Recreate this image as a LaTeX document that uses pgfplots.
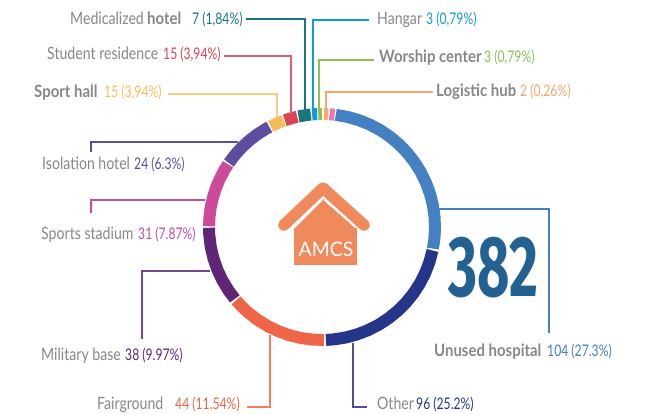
\documentclass[border=0pt]{standalone}
\usepackage{fontspec}
\setmainfont{Lato}[FakeStretch=0.83]
\newfontfamily\valfont{Lato}[FakeStretch=0.76]
\newfontfamily\boldfont{Lato}[FakeStretch=0.88]
\newfontfamily\amcsfont{Lato}[FakeStretch=0.97]
\newfontfamily\bigfont{Fira Sans}[FakeStretch=0.65]
\usepackage{pgfplots}
\usepgfplotslibrary{polar}
\pgfplotsset{compat=1.18}
\definecolor{cA}{HTML}{4580C2}
\definecolor{cB}{HTML}{25358A}
\definecolor{cC}{HTML}{EF6548}
\definecolor{cD}{HTML}{5F2675}
\definecolor{cE}{HTML}{CB4B9A}
\definecolor{cF}{HTML}{5F4C9E}
\definecolor{cG}{HTML}{F4BD59}
\definecolor{cH}{HTML}{D94452}
\definecolor{cI}{HTML}{1C747C}
\definecolor{cJ}{HTML}{0F9AD8}
\definecolor{cK}{HTML}{8CC152}
\definecolor{cL}{HTML}{F9A66C}
\definecolor{cM}{HTML}{EE78AE}
\definecolor{txt}{HTML}{85878A}
\definecolor{house}{HTML}{F0895C}
\definecolor{big}{HTML}{246193}
\newcommand{\nm}[3]{\node[anchor=base west,inner sep=0pt,text=txt,font=\fontsize{17}{17}\selectfont] at (axis cs:#1,#2) {#3};}
\newcommand{\nb}[3]{\node[anchor=base west,inner sep=0pt,text=txt,font=\boldfont\fontsize{17}{17}\selectfont\bfseries] at (axis cs:#1,#2) {#3};}
\newcommand{\vl}[4]{\node[anchor=base west,inner sep=0pt,text=#3,font=\valfont\fontsize{16}{16}\selectfont] at (axis cs:#1,#2) {#4};}
\begin{document}
\begin{tikzpicture}
\path[use as bounding box] (0,0) rectangle (648pt,414pt);
\begin{polaraxis}[at={(322pt,187pt)},anchor=center,scale only axis,width=238pt,height=238pt,
  xmin=0,xmax=360,ymin=0,ymax=119,hide axis,clip=false]
\pgfplotsset{every axis plot/.append style={line width=12pt,line cap=butt,line join=round,no markers}}
\addplot[cA] coordinates {(83,113)(77,113)(71,113)(65,113)(59,113)(53,113)(47,113)(41,113)(35,113)(29,113)(23,113)(17,113)(11,113)(5,113)(-1,113)(-6,113)(-11,113)};
\addplot[cB] coordinates {(-12,113)(-18,113)(-24,113)(-30,113)(-36,113)(-42,113)(-48,113)(-54,113)(-60,113)(-66,113)(-72,113)(-78,113)(-84,113)(-88,113)};
\addplot[cC] coordinates {(-89,113)(-95,113)(-101,113)(-107,113)(-113,113)(-119,113)(-125,113)(-131,113)(-136,113)(-139.5,113)};
\addplot[cD] coordinates {(-140.5,113)(-146,113)(-152,113)(-158,113)(-164,113)(-170,113)(-176,113)(-179.6,113)};
\addplot[cE] coordinates {(179.6,113)(175,113)(170,113)(165,113)(160,113)(155,113)(150,113)(146.3,113)};
\addplot[cF] coordinates {(145.5,113)(140,113)(135,113)(130,113)(125,113)(120,113)(117.8,113)};
\addplot[cG] coordinates {(117,113)(113,113)(109.9,113)};
\addplot[cH] coordinates {(109.2,113)(106,113)(102.7,113)};
\addplot[cI] coordinates {(102,113)(98,113)(95.7,113)};
\addplot[cJ] coordinates {(95,113)(94,113)(92.5,113)};
\addplot[cK] coordinates {(91.9,113)(91,113)(90,113)};
\addplot[cL] coordinates {(89,113)(88,113)(87,113)};
\addplot[cM] coordinates {(86.2,113)(85,113)(83.6,113)};
\end{polaraxis}
\begin{axis}[at={(0pt,0pt)},anchor=south west,scale only axis,width=648pt,height=414pt,
  xmin=0,xmax=648,ymin=0,ymax=414,y dir=reverse,hide axis,clip=false]
\pgfplotsset{every axis plot/.append style={line width=1.1pt,no markers}}
% leaders
\addplot[cI] coordinates {(246,19)(305,19)(305,111)};
\addplot[cJ] coordinates {(369,20)(313,20)(313,110)};
\addplot[cK] coordinates {(374,60)(319,60)(319,110)};
\addplot[cL] coordinates {(433,92)(326,92)(326,110)};
\addplot[cH!85!white] coordinates {(224,56)(291,56)(291,115)};
\addplot[cG!75!white] coordinates {(168,94)(277,94)(277,118)};
\addplot[cF] coordinates {(91,152)(91,142)(238,142)};
\addplot[cE] coordinates {(91,213)(91,200)(205,200)};
\addplot[cD!85!white] coordinates {(142,339)(142,271)(210,271)};
\addplot[cC!60!cL] coordinates {(247,407)(270,407)(270,335)};
\addplot[cB!85!white] coordinates {(367,407)(353,407)(353,343)};
\addplot[cA] coordinates {(549,333)(549,209)(439,209)};
% house
\addplot[house,fill=house,line width=0pt] coordinates {(294,264)(294,229)(323,200)(356,229)(356,264)} -- cycle;
\addplot[house,line width=11.5pt,line cap=round,line join=round] coordinates {(284,225)(323,188)(364,225)};
\node[text=white,inner sep=0pt,font=\amcsfont\fontsize{20}{20}\selectfont] at (axis cs:326,249) {AMCS};
\node[text=big,inner sep=0pt,anchor=center,font=\bigfont\fontsize{86}{86}\selectfont\bfseries] at (axis cs:493.5,268) {382};
% labels
\nm{70}{25}{Medicalized} \nb{147}{25}{hotel} \vl{192}{25}{cI}{7 (1,84\%)}
\nm{47}{60}{Student residence} \vl{163}{60}{cH}{15 (3,94\%)}
\nb{34}{98}{Sport hall} \vl{104}{98}{cG}{15 (3,94\%)}
\nm{377}{25}{Hangar} \vl{426}{25}{cJ}{3 (0,79\%)}
\nb{379}{63}{Worship center} \vl{484}{63}{cK}{3 (0,79\%)}
\nb{436}{97}{Logistic hub} \vl{520}{97}{cL}{2 (0,26\%)}
\nm{42}{170}{Isolation hotel} \vl{134}{170}{cF}{24 (6.3\%)}
\nm{41}{240}{Sports stadium} \vl{138}{240}{cE}{31 (7.87\%)}
\nm{41}{360}{Military base} \vl{125}{360}{cD}{38 (9.97\%)}
\nm{97}{409}{Fairground} \vl{175}{409}{cC}{44 (11.54\%)}
\nm{377}{409}{Other} \vl{416}{409}{cB}{96 (25.2\%)}
\nb{434}{356}{Unused hospital} \vl{547}{356}{cA}{104 (27.3\%)}
\end{axis}
\end{tikzpicture}
\end{document}
